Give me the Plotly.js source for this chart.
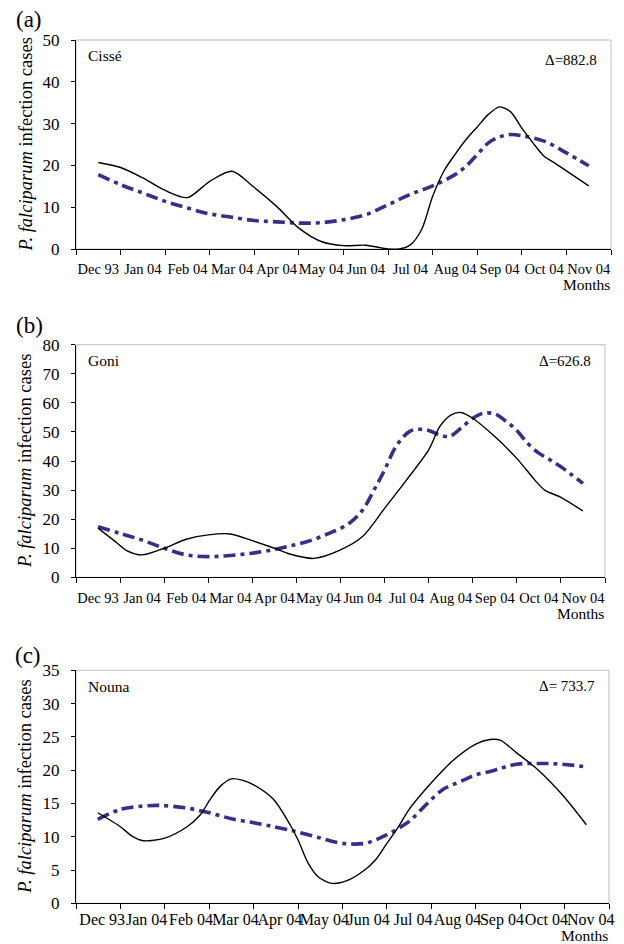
<!DOCTYPE html>
<html>
<head>
<meta charset="utf-8">
<script src="https://cdn.plot.ly/plotly-3.0.1.min.js"></script>
<style>html,body{margin:0;padding:0;background:#fff;}#chart{width:624px;height:944px;}</style>
</head>
<body>
<div id="chart"></div>
<script>
// ---- data (positions in months from start of Dec 93; 0.5 = middle of Dec 93) ----
var monthLabels = ["Dec 93","Jan 04","Feb 04","Mar 04","Apr 04","May 04","Jun 04","Jul 04","Aug 04","Sep 04","Oct 04","Nov 04"];

// (a) Cissé
var cisseObsX = [0.5,1.0,1.5,2.0,2.5,3.0,3.5,4.0,4.5,5.0,5.5,6.0,6.5,7.0,7.25,7.5,7.75,8.0,8.25,8.5,8.75,9.0,9.25,9.5,9.75,10.0,10.25,10.5,10.75,11.0,11.25,11.5];
var cisseObsY = [20.7,19.5,17.0,14.0,12.3,16.2,18.6,14.7,10.2,5.0,1.8,0.8,0.9,0.0,0.0,1.0,4.6,12.6,18.6,22.6,26.2,29.2,32.2,34.0,32.8,28.9,25.4,22.2,20.5,18.7,16.9,15.1];
var cisseModX = [0.5,1.0,1.5,2.0,2.5,3.0,3.5,4.0,4.5,5.0,5.5,6.0,6.5,7.0,7.5,8.0,8.5,8.75,9.0,9.25,9.5,9.75,10.0,10.5,11.0,11.5];
var cisseModY = [17.8,15.4,13.4,11.4,9.8,8.4,7.6,6.8,6.5,6.2,6.3,7.0,8.2,10.6,13.1,15.1,17.8,19.8,22.6,25.4,26.8,27.4,27.1,25.8,23.0,19.9];

// (b) Goni
var goniObsX = [0.5,0.85,1.15,1.5,2.0,2.5,3.0,3.5,4.0,4.5,4.85,5.4,6.0,6.5,7.0,7.5,8.0,8.25,8.5,8.73,9.0,9.5,10.0,10.4,10.63,11.0,11.5];
var goniObsY = [16.9,12.8,9.2,7.7,10.0,13.1,14.6,14.9,12.6,10.0,8.0,6.5,9.4,14.0,23.7,33.5,43.8,51.8,55.8,56.7,54.7,48.4,40.9,33.6,30.0,27.5,22.8];
var goniModX = [0.5,1.0,1.5,2.0,2.5,3.0,3.5,4.0,4.5,4.85,5.25,5.74,6.2,6.5,6.76,7.0,7.26,7.56,7.79,8.0,8.24,8.47,8.73,9.0,9.23,9.5,9.76,10.0,10.25,10.5,10.75,11.0,11.25,11.5];
var goniModY = [17.4,15.1,12.8,10.0,7.7,7.1,7.5,8.3,9.6,10.8,12.3,15.1,18.6,23.1,30.0,36.9,45.0,50.1,50.9,50.5,49.0,48.4,51.3,54.7,56.4,56.2,53.6,50.5,46.0,42.7,40.4,38.0,35.2,32.3];

// (c) Nouna
var nounaObsX = [0.49,1.0,1.26,1.52,2.0,2.5,2.8,3.02,3.25,3.5,3.74,4.0,4.45,4.82,5.0,5.23,5.45,5.76,6.1,6.5,6.74,6.98,7.27,7.5,8.0,8.48,9.0,9.32,9.55,9.92,10.41,10.95,11.49];
var nounaObsY = [13.6,11.5,10.1,9.4,9.8,11.5,13.3,15.6,17.6,18.7,18.5,17.8,15.6,11.8,9.5,6.0,4.0,3.0,3.4,5.0,6.5,8.8,11.6,14.1,18.1,21.4,23.9,24.6,24.5,22.6,20.0,16.3,11.8];
var nounaModX = [0.49,1.0,1.5,1.9,2.5,3.0,3.5,4.0,4.45,4.82,5.0,5.45,5.9,6.2,6.5,6.74,7.0,7.27,7.5,7.73,8.0,8.26,8.48,8.79,9.0,9.32,9.62,9.92,10.5,10.95,11.49];
var nounaModY = [12.6,14.1,14.6,14.7,14.3,13.6,12.7,12.1,11.5,11.0,10.7,9.9,9.1,8.9,9.0,9.5,10.3,11.3,12.3,13.8,15.6,17.1,17.8,18.7,19.3,19.8,20.4,20.9,21.0,20.9,20.5];

var panelLetters = ["(a)","(b)","(c)"];
var siteNames = ["Cissé","Goni","Nouna"];
var deltaTexts = ["Δ=882.8","Δ=626.8","Δ= 733.7"];
var yMax = [50,80,35];
var yStep = [10,10,5];

// ---- styling / layout ----
var W = 624, H = 944;
var SERIF = "Liberation Serif";
var boxes = [
  {l:76, r:611, t:40, b:249, xfs:14.5, shift:0, stand:7},
  {l:76, r:605, t:344.7, b:577.3, xfs:14.5, shift:0, stand:7},
  {l:76, r:609, t:670.3, b:903.3, xfs:16, shift:4, stand:1}
];
var letterPos = [[29,20],[29,325],[28,655]];
var monthsY = [285,613,935];

var centers = monthLabels.map(function(_, i){ return i + 0.5; });
var bounds = []; for (var k = 0; k <= monthLabels.length; k++) bounds.push(k);

var obs = [[cisseObsX,cisseObsY],[goniObsX,goniObsY],[nounaObsX,nounaObsY]];
var mod = [[cisseModX,cisseModY],[goniModX,goniModY],[nounaModX,nounaModY]];

var traces = [];
var layout = {
  width: W, height: H,
  margin: {l:0, r:0, t:0, b:0},
  paper_bgcolor: "#fff", plot_bgcolor: "#fff",
  showlegend: false,
  font: {family: SERIF, color: "#000"},
  shapes: [], annotations: []
};

for (var i = 0; i < 3; i++) {
  var sfx = i === 0 ? "" : String(i + 1);
  var xa = "x" + sfx, ya = "y" + sfx;
  var bx = boxes[i];
  traces.push({
    x: mod[i][0], y: mod[i][1], xaxis: xa, yaxis: ya, mode: "lines", type: "scatter",
    line: {color: "#3D2C88", width: 3.6, dash: "12px,5px,4px,5px", shape: "spline", smoothing: 1}
  });
  traces.push({
    x: obs[i][0], y: obs[i][1], xaxis: xa, yaxis: ya, mode: "lines", type: "scatter",
    line: {color: "#000", width: 1.4, shape: "spline", smoothing: 0.8}
  });
  layout["xaxis" + sfx] = {
    domain: [bx.l / W, bx.r / W], anchor: ya, range: [0, 12],
    tickmode: "array", tickvals: centers, ticktext: monthLabels, ticks: "",
    tickangle: 0, tickfont: {family: SERIF, size: bx.xfs, color: "#000"},
    ticklabelshift: bx.shift, ticklabelstandoff: bx.stand,
    minor: {tickmode: "array", tickvals: bounds, ticks: "outside", ticklen: 5, tickcolor: "#000", tickwidth: 1, showgrid: false},
    showline: true, linecolor: "#000", linewidth: 1, showgrid: false, zeroline: false, fixedrange: true
  };
  layout["yaxis" + sfx] = {
    domain: [1 - bx.b / H, 1 - bx.t / H], anchor: xa, range: [0, yMax[i]],
    tickmode: "linear", tick0: 0, dtick: yStep[i], ticks: "outside", ticklen: 4, tickcolor: "#000",
    tickfont: {family: SERIF, size: 17, color: "#000"}, ticklabelstandoff: 8,
    showline: true, linecolor: "#000", linewidth: 1, showgrid: false, zeroline: false, fixedrange: true
  };
  layout.shapes.push({type: "rect", xref: xa + " domain", yref: ya + " domain", x0: 0, x1: 1, y0: 0, y1: 1,
    line: {color: "#BDBDBD", width: 1}, layer: "below"});
  layout.annotations.push({xref: "paper", yref: "paper", x: letterPos[i][0] / W, y: 1 - letterPos[i][1] / H,
    text: panelLetters[i], showarrow: false, xanchor: "center", yanchor: "middle", font: {family: SERIF, size: 23}});
  var siteY = i === 0 ? bx.t + 15 : bx.t + 16;
  layout.annotations.push({xref: "paper", yref: "paper", x: (bx.l + 10) / W, y: 1 - siteY / H,
    text: siteNames[i], showarrow: false, xanchor: "left", yanchor: "middle", font: {family: SERIF, size: 15.5}});
  var dY = i === 0 ? bx.t + 20 : bx.t + 16;
  layout.annotations.push({xref: "paper", yref: "paper", x: (bx.r - 12) / W, y: 1 - dY / H,
    text: deltaTexts[i], showarrow: false, xanchor: "right", yanchor: "middle", font: {family: SERIF, size: 15}});
  layout.annotations.push({xref: "paper", yref: "paper", x: (bx.r + 1) / W, y: 1 - monthsY[i] / H,
    text: "Months", showarrow: false, xanchor: "right", yanchor: "middle", font: {family: SERIF, size: 15.5}});
  layout.annotations.push({xref: "paper", yref: "paper", x: 25 / W, y: 1 - ((bx.t + bx.b) / 2) / H,
    text: "<i>P. falciparum</i> infection cases", textangle: -90, showarrow: false,
    xanchor: "center", yanchor: "middle", font: {family: SERIF, size: 18.5}});
}

Plotly.newPlot("chart", traces, layout, {staticPlot: true, displayModeBar: false});
</script>
</body>
</html>
